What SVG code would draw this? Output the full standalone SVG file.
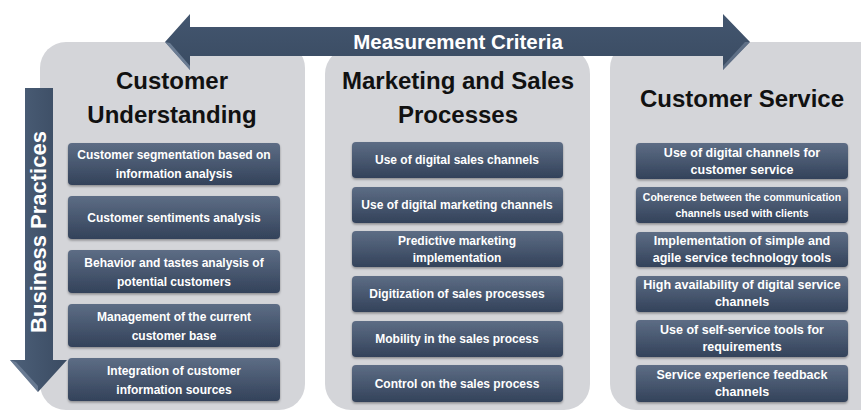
<svg xmlns="http://www.w3.org/2000/svg" width="861" height="417" viewBox="0 0 861 417">
<defs>
<linearGradient id="boxg" x1="0" y1="0" x2="0" y2="1">
<stop offset="0" stop-color="#5d6d85"/>
<stop offset="1" stop-color="#33425a"/>
</linearGradient>
<linearGradient id="arrh" x1="0" y1="0" x2="0" y2="1">
<stop offset="0" stop-color="#43566f"/>
<stop offset="1" stop-color="#3a4b62"/>
</linearGradient>
<linearGradient id="arrv" x1="0" y1="0" x2="1" y2="0">
<stop offset="0" stop-color="#4d6079"/>
<stop offset="1" stop-color="#3a4b62"/>
</linearGradient>
<filter id="sh" x="-10%" y="-20%" width="120%" height="150%">
<feDropShadow dx="0" dy="1.5" stdDeviation="1.2" flood-color="#000" flood-opacity="0.35"/>
</filter>
<style>
.panel{fill:#d4d5d9}
.box{fill:url(#boxg);filter:url(#sh)}
.bt{font-family:"Liberation Sans",Arial,sans-serif;font-weight:bold;font-size:12px;fill:#fff;text-anchor:middle}
.bt2{font-size:12.5px}
.bts{font-size:10.5px}
.hd{font-family:"Liberation Sans",Arial,sans-serif;font-weight:bold;font-size:24px;fill:#111;text-anchor:middle}
.at{font-family:"Liberation Sans",Arial,sans-serif;font-weight:bold;fill:#fff;text-anchor:middle}
</style>
</defs>
<rect width="861" height="417" fill="#fff"/>

<g id="panel-customer-understanding">
<rect class="panel" x="40" y="42" width="265" height="368" rx="26"/>
<text class="hd" x="172" y="89">Customer</text>
<text class="hd" x="172" y="123">Understanding</text>
</g>
<g id="panel-marketing-sales">
<rect class="panel" x="325" y="48" width="265" height="362" rx="26"/>
<text class="hd" x="458" y="89">Marketing and Sales</text>
<text class="hd" x="458" y="123">Processes</text>
</g>
<g id="panel-customer-service">
<rect class="panel" x="610" y="42" width="280" height="368" rx="26"/>
<text class="hd" x="742" y="107">Customer Service</text>
</g>

<g id="arrows">
<g id="measurement-criteria">
<path d="M165,42 L190,14 L190,27 L723,27 L723,14 L750,42 L723,70 L723,56 L190,56 L190,70 Z" fill="url(#arrh)"/>
<path d="M165,42 L190,70 L190,66 L170,43 Z" fill="#7f90a6" opacity="0.7"/>
<path d="M750,42 L723,70 L723,66 L745,42 Z" fill="#7f90a6" opacity="0.5"/>
<text class="at" x="458" y="49" font-size="20.5">Measurement Criteria</text>
</g>
<g id="business-practices">
<path d="M25,88 L53,88 L53,360 L67,360 L38,392 L10,360 L25,360 Z" fill="url(#arrv)"/>
<path d="M10,360 L38,392 L38,386 L16,362 Z" fill="#7f90a6" opacity="0.6"/>
<text class="at" font-size="22" transform="translate(46,232) rotate(-90)">Business Practices</text>
</g>
</g>

<g id="cu-1"><rect class="box" x="68" y="143" width="212" height="42" rx="4"/>
<text class="bt" x="174" y="159">Customer segmentation based on</text>
<text class="bt" x="174" y="178">information analysis</text></g>
<g id="cu-2"><rect class="box" x="68" y="196" width="212" height="43" rx="4"/>
<text class="bt" x="174" y="222">Customer sentiments analysis</text></g>
<g id="cu-3"><rect class="box" x="68" y="250" width="212" height="43" rx="4"/>
<text class="bt" x="174" y="267">Behavior and tastes analysis of</text>
<text class="bt" x="174" y="286">potential customers</text></g>
<g id="cu-4"><rect class="box" x="68" y="304" width="212" height="43" rx="4"/>
<text class="bt" x="174" y="321">Management of the current</text>
<text class="bt" x="174" y="340">customer base</text></g>
<g id="cu-5"><rect class="box" x="68" y="358" width="212" height="43" rx="4"/>
<text class="bt" x="174" y="375">Integration of customer</text>
<text class="bt" x="174" y="394">information sources</text></g>

<g id="ms-1"><rect class="box" x="352" y="142" width="211" height="36" rx="4"/>
<text class="bt" x="457" y="164">Use of digital sales channels</text></g>
<g id="ms-2"><rect class="box" x="352" y="187" width="211" height="36" rx="4"/>
<text class="bt" x="457" y="209">Use of digital marketing channels</text></g>
<g id="ms-3"><rect class="box" x="352" y="231" width="211" height="36" rx="4"/>
<text class="bt" x="457" y="245">Predictive marketing</text>
<text class="bt" x="457" y="262">implementation</text></g>
<g id="ms-4"><rect class="box" x="352" y="276" width="211" height="36" rx="4"/>
<text class="bt" x="457" y="298">Digitization of sales processes</text></g>
<g id="ms-5"><rect class="box" x="352" y="321" width="211" height="36" rx="4"/>
<text class="bt" x="457" y="343">Mobility in the sales process</text></g>
<g id="ms-6"><rect class="box" x="352" y="365" width="211" height="37" rx="4"/>
<text class="bt" x="457" y="388">Control on the sales process</text></g>

<g id="cs-1"><rect class="box" x="636" y="143" width="212" height="36" rx="4"/>
<text class="bt bt2" x="742" y="157">Use of digital channels for</text>
<text class="bt bt2" x="742" y="174">customer service</text></g>
<g id="cs-2"><rect class="box" x="636" y="187" width="212" height="36" rx="4"/>
<text class="bt bts" x="742" y="201">Coherence between the communication</text>
<text class="bt bts" x="742" y="217">channels used with clients</text></g>
<g id="cs-3"><rect class="box" x="636" y="232" width="212" height="35" rx="4"/>
<text class="bt bt2" x="742" y="245">Implementation of simple and</text>
<text class="bt bt2" x="742" y="262">agile service technology tools</text></g>
<g id="cs-4"><rect class="box" x="636" y="276" width="212" height="36" rx="4"/>
<text class="bt bt2" x="742" y="289">High availability of digital service</text>
<text class="bt bt2" x="742" y="306">channels</text></g>
<g id="cs-5"><rect class="box" x="636" y="320" width="212" height="37" rx="4"/>
<text class="bt bt2" x="742" y="334">Use of self-service tools for</text>
<text class="bt bt2" x="742" y="351">requirements</text></g>
<g id="cs-6"><rect class="box" x="636" y="365" width="212" height="37" rx="4"/>
<text class="bt bt2" x="742" y="379">Service experience feedback</text>
<text class="bt bt2" x="742" y="396">channels</text></g>
</svg>
